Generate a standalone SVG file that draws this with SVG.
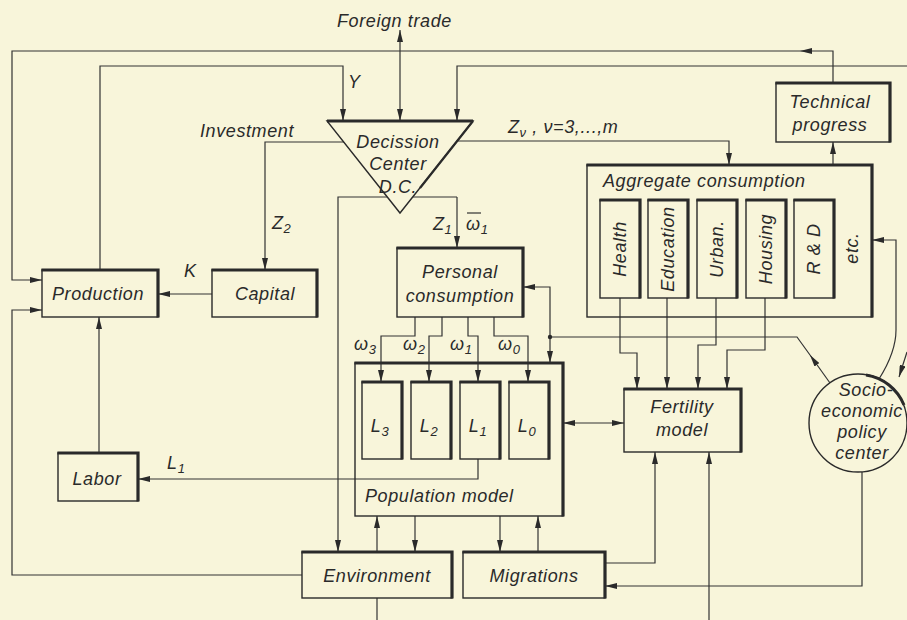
<svg xmlns="http://www.w3.org/2000/svg" width="907" height="620" viewBox="0 0 907 620">
<style>
  text { font-family: "Liberation Sans", "DejaVu Sans", sans-serif; font-style: italic; font-size: 18px; fill: #2a2a2a; letter-spacing: 0.6px; }
  .c { text-anchor: middle; }
  .ln { fill: none; stroke: #333; stroke-width: 1.2; }
  .box { fill: none; stroke: #2a2a2a; stroke-width: 1.4; }
  .sh { fill: none; stroke: #2a2a2a; stroke-width: 3.2; stroke-linecap: square; }
  .ar { marker-end: url(#ah); }
  .ar2 { marker-start: url(#ah); marker-end: url(#ah); }
  .sm { font-size: 13px; }
</style>
<defs>
  <marker id="ah" viewBox="0 0 12 6" refX="12" refY="3" markerWidth="12" markerHeight="6" orient="auto-start-reverse" markerUnits="userSpaceOnUse">
    <path d="M0,0 L12,3 L0,6 z" fill="#2a2a2a"/>
  </marker>
</defs>
<rect x="0" y="0" width="907" height="620" fill="#f8f5da"/>

<g id="connectors">
  <path class="ln ar" d="M833,83 V51 H800"/>
  <path class="ln ar" d="M800,51 H12 V280 H42"/>
  <path class="ln ar" d="M100,270 V66 H343 V121"/>
  <path class="ln ar2" d="M400,121 V30"/>
  <path class="ln ar" d="M907,66 H457 V121"/>
  <path class="ln ar" d="M907,352 L899,377"/>
  <path class="ln ar" d="M344,142 H265 V270"/>
  <path class="ln ar" d="M457,141 H729 V165"/>
  <path class="ln ar" d="M212,294 H158"/>
  <path class="ln ar" d="M99,453 V317"/>
  <path class="ln ar" d="M478,459 V479 H138"/>
  <path class="ln ar" d="M302,575 H12 V310 H42"/>
  <path class="ln ar" d="M457,197 H338 V552"/>
  <path class="ln ar" d="M457,197 V248"/>
  <path class="ln ar" d="M833,165 V142"/>
  <path class="ln ar" d="M415,317 V336 H381 V382"/>
  <path class="ln ar" d="M442,317 V336 H429 V382"/>
  <path class="ln ar" d="M468,317 V336 H478 V382"/>
  <path class="ln ar" d="M494,317 V336 H528 V382"/>
  <path class="ln ar2" d="M523,287 H550 V363"/>
  <path class="ln ar" d="M830,383 L810,355"/>
  <path class="ln" d="M810,355 L797,337 H550"/>
  <circle cx="550" cy="337" r="2.2" fill="#2a2a2a"/>
  <path class="ln ar" d="M620,298 V353 H637 V389"/>
  <path class="ln ar" d="M667,298 V389"/>
  <path class="ln ar" d="M716,298 V345 H698 V389"/>
  <path class="ln ar" d="M765,298 V350 H727 V389"/>
  <path class="ln ar2" d="M563,423 H624"/>
  <path class="ln ar" d="M879,379 Q896,352 896,330 V240 H872"/>
  <path class="ln ar" d="M377,552 V516"/>
  <path class="ln ar" d="M415,516 V552"/>
  <path class="ln ar" d="M500,516 V552"/>
  <path class="ln ar" d="M538,552 V516"/>
  <path class="ln ar" d="M605,563 H655 V452"/>
  <path class="ln ar" d="M709,620 V452"/>
  <path class="ln ar" d="M862,472 V586 H605"/>
  <path class="ln" d="M377,598 V620"/>
</g>

<g id="labels">
  <text x="337" y="27">Foreign trade</text>
  <text x="348" y="88">Y</text>
  <text x="200" y="137">Investment</text>
  <text x="272" y="229">Z<tspan class="sm" dy="4">2</tspan></text>
  <text x="184" y="277">K</text>
  <text x="508" y="133">Z<tspan class="sm" dy="4">ν</tspan><tspan dy="-4"> ,  ν=3,...,m</tspan></text>
  <text x="433" y="230">Z<tspan class="sm" dy="4">1</tspan></text>
  <text x="466" y="230">ω<tspan class="sm" dy="4">1</tspan></text>
  <path class="ln" d="M467,213 H481" stroke-width="1.4"/>
  <text x="354" y="350">ω<tspan class="sm" dy="4">3</tspan></text>
  <text x="403" y="350">ω<tspan class="sm" dy="4">2</tspan></text>
  <text x="450" y="350">ω<tspan class="sm" dy="4">1</tspan></text>
  <text x="498" y="350">ω<tspan class="sm" dy="4">0</tspan></text>
  <text x="167" y="469">L<tspan class="sm" dy="4">1</tspan></text>
</g>

<g id="production">
  <rect class="box" x="42" y="270" width="116" height="47"/>
  <path class="sh" d="M43,270 H158 V316"/>
  <text class="c" x="98" y="300">Production</text>
</g>
<g id="capital">
  <rect class="box" x="212" y="270" width="105" height="47"/>
  <path class="sh" d="M213,270 H317 V316"/>
  <text class="c" x="265" y="300">Capital</text>
</g>
<g id="labor">
  <rect class="box" x="58" y="453" width="80" height="48"/>
  <path class="sh" d="M59,453 H138 V500"/>
  <text class="c" x="97" y="485">Labor</text>
</g>
<g id="technical-progress">
  <rect class="box" x="776" y="83" width="114" height="59"/>
  <path class="sh" d="M777,83 H890 V141"/>
  <text class="c" x="830" y="108">Technical</text>
  <text class="c" x="830" y="131">progress</text>
</g>
<g id="decision-center">
  <path d="M327,121 L473,121 L400,213 Z" fill="#f8f5da" stroke="#2a2a2a" stroke-width="1.4"/>
  <path d="M327,121 H473" stroke="#2a2a2a" stroke-width="3.2"/>
  <path d="M473,121 L420,188" stroke="#2a2a2a" stroke-width="2.2"/>
  <text class="c" x="398" y="148">Decission</text>
  <text class="c" x="398" y="170">Center</text>
  <text class="c" x="398" y="193">D.C.</text>
</g>
<g id="aggregate-consumption">
  <rect class="box" x="587" y="165" width="285" height="152"/>
  <path class="sh" d="M588,165 H872 V316"/>
  <text x="603" y="187">Aggregate consumption</text>
  <g id="health">
    <rect class="box" x="600" y="200" width="40" height="98"/>
    <path class="sh" d="M601,200 H640 V297"/>
    <text class="c" transform="translate(626,249) rotate(-90)">Health</text>
  </g>
  <g id="education">
    <rect class="box" x="648" y="200" width="40" height="98"/>
    <path class="sh" d="M649,200 H688 V297"/>
    <text class="c" transform="translate(674,249) rotate(-90)">Education</text>
  </g>
  <g id="urban">
    <rect class="box" x="697" y="200" width="40" height="98"/>
    <path class="sh" d="M698,200 H737 V297"/>
    <text class="c" transform="translate(723,249) rotate(-90)">Urban.</text>
  </g>
  <g id="housing">
    <rect class="box" x="746" y="200" width="40" height="98"/>
    <path class="sh" d="M747,200 H786 V297"/>
    <text class="c" transform="translate(772,249) rotate(-90)">Housing</text>
  </g>
  <g id="rnd">
    <rect class="box" x="794" y="200" width="40" height="98"/>
    <path class="sh" d="M795,200 H834 V297"/>
    <text class="c" transform="translate(820,249) rotate(-90)">R &amp; D</text>
  </g>
  <text class="c" transform="translate(858,248) rotate(-90)">etc.</text>
</g>
<g id="personal-consumption">
  <rect class="box" x="397" y="248" width="126" height="69"/>
  <path class="sh" d="M398,248 H523 V316"/>
  <text class="c" x="460" y="278">Personal</text>
  <text class="c" x="460" y="302">consumption</text>
</g>
<g id="population-model">
  <rect class="box" x="355" y="363" width="208" height="153"/>
  <path class="sh" d="M356,363 H563 V515"/>
  <text x="365" y="502">Population model</text>
  <g id="L3">
    <rect class="box" x="362" y="382" width="40" height="77"/>
    <path class="sh" d="M363,382 H402 V458"/>
    <text class="c" x="380" y="432">L<tspan class="sm" dy="4">3</tspan></text>
  </g>
  <g id="L2">
    <rect class="box" x="411" y="382" width="40" height="77"/>
    <path class="sh" d="M412,382 H451 V458"/>
    <text class="c" x="429" y="432">L<tspan class="sm" dy="4">2</tspan></text>
  </g>
  <g id="L1">
    <rect class="box" x="460" y="382" width="40" height="77"/>
    <path class="sh" d="M461,382 H500 V458"/>
    <text class="c" x="478" y="432">L<tspan class="sm" dy="4">1</tspan></text>
  </g>
  <g id="L0">
    <rect class="box" x="509" y="382" width="40" height="77"/>
    <path class="sh" d="M510,382 H549 V458"/>
    <text class="c" x="527" y="432">L<tspan class="sm" dy="4">0</tspan></text>
  </g>
</g>
<g id="fertility-model">
  <rect class="box" x="624" y="389" width="117" height="63"/>
  <path class="sh" d="M625,389 H741 V451"/>
  <text class="c" x="682" y="413">Fertility</text>
  <text class="c" x="682" y="436">model</text>
</g>
<g id="environment">
  <rect class="box" x="302" y="552" width="150" height="46"/>
  <path class="sh" d="M303,552 H452 V597"/>
  <text class="c" x="377" y="582">Environment</text>
</g>
<g id="migrations">
  <rect class="box" x="463" y="552" width="142" height="46"/>
  <path class="sh" d="M464,552 H605 V597"/>
  <text class="c" x="534" y="582">Migrations</text>
</g>
<g id="socio-economic-policy-center">
  <circle cx="858" cy="423" r="49" fill="#f8f5da" stroke="#2a2a2a" stroke-width="1.4"/>
  <path d="M866,375 A49,49 0 0 1 904,405" fill="none" stroke="#2a2a2a" stroke-width="3"/>
  <text class="c" x="866" y="396">Socio-</text>
  <text class="c" x="862" y="417">economic</text>
  <text class="c" x="862" y="438">policy</text>
  <text class="c" x="862" y="459">center</text>
</g>
</svg>
